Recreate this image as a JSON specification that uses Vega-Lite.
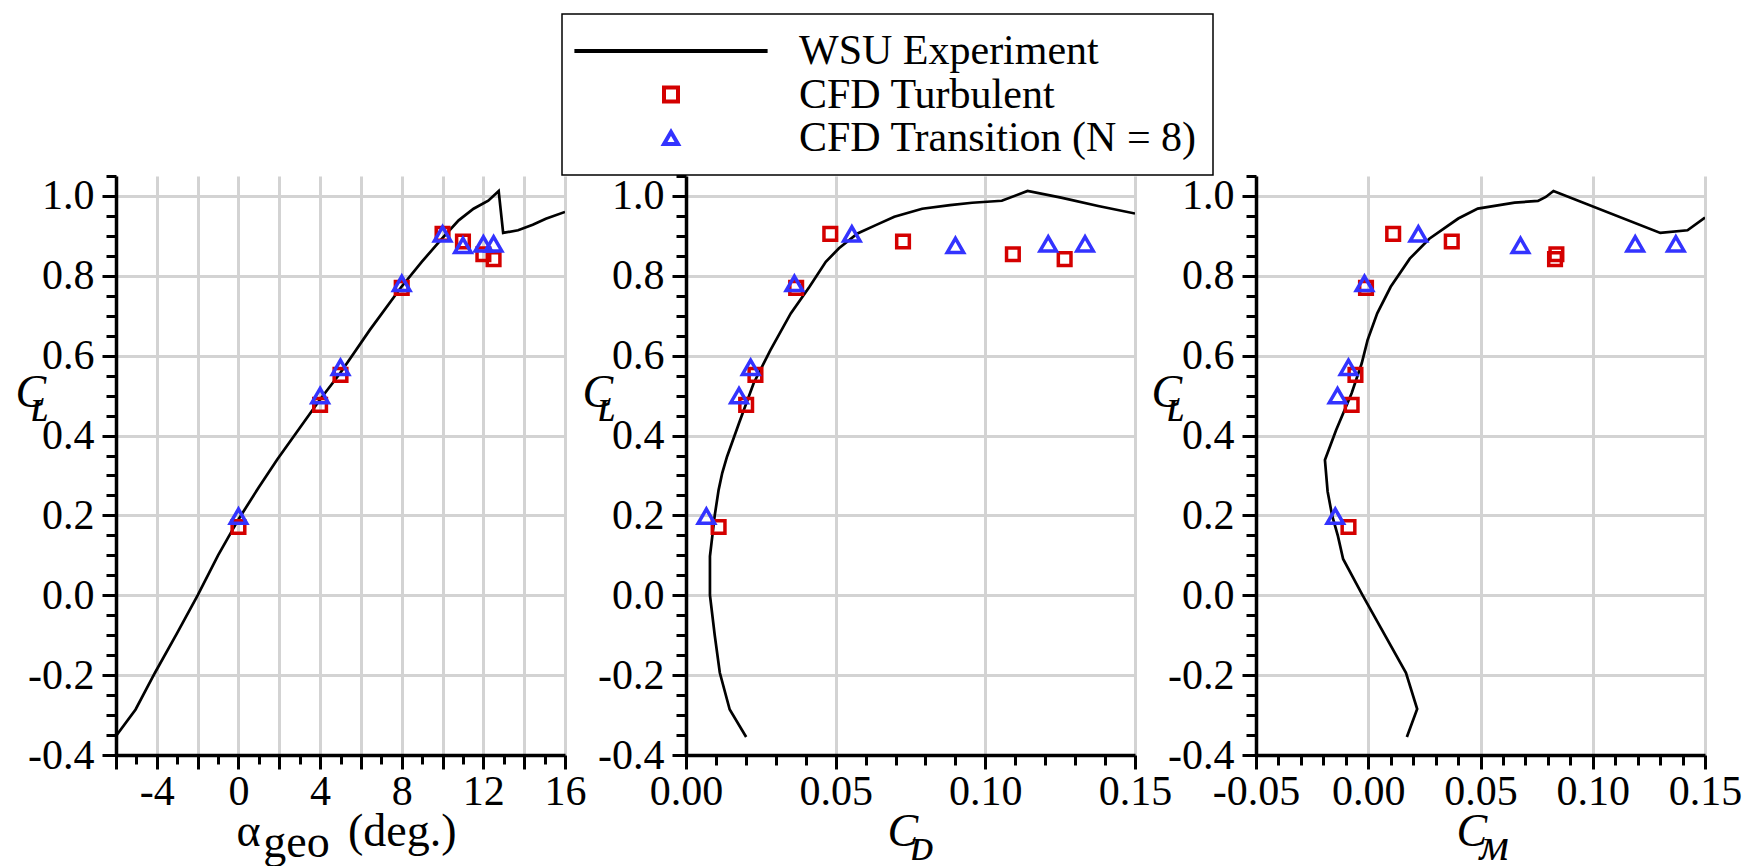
{
  "$schema": "https://vega.github.io/schema/vega-lite/v6.json",
  "autosize": {"type": "pad"},
  "padding": {"left": 15, "top": 13, "right": 10, "bottom": 4},
  "background": "white",
  "datasets": {
    "wsu_a": [
      {"i": 1, "alpha": -6.0, "CL": -0.3525},
      {"i": 2, "alpha": -5.04, "CL": -0.286},
      {"i": 3, "alpha": -4.09, "CL": -0.194},
      {"i": 4, "alpha": -3.0, "CL": -0.094},
      {"i": 5, "alpha": -2.0, "CL": 0.0},
      {"i": 6, "alpha": -1.0, "CL": 0.10},
      {"i": 7, "alpha": 0.0, "CL": 0.19},
      {"i": 8, "alpha": 0.99, "CL": 0.27},
      {"i": 9, "alpha": 1.9, "CL": 0.34},
      {"i": 10, "alpha": 3.98, "CL": 0.489},
      {"i": 11, "alpha": 4.98, "CL": 0.556},
      {"i": 12, "alpha": 6.43, "CL": 0.664},
      {"i": 13, "alpha": 7.98, "CL": 0.772},
      {"i": 14, "alpha": 8.98, "CL": 0.835},
      {"i": 15, "alpha": 9.97, "CL": 0.893},
      {"i": 16, "alpha": 10.79, "CL": 0.939},
      {"i": 17, "alpha": 11.52, "CL": 0.968},
      {"i": 18, "alpha": 12.24, "CL": 0.988},
      {"i": 19, "alpha": 12.75, "CL": 1.0125},
      {"i": 20, "alpha": 12.97, "CL": 0.9075},
      {"i": 21, "alpha": 13.7, "CL": 0.914},
      {"i": 22, "alpha": 14.42, "CL": 0.928},
      {"i": 23, "alpha": 15.06, "CL": 0.943},
      {"i": 24, "alpha": 16.0, "CL": 0.96}
    ],
    "wsu_d": [
      {"i": 1, "CD": 0.0201, "CL": -0.355},
      {"i": 2, "CD": 0.0146, "CL": -0.286},
      {"i": 3, "CD": 0.0113, "CL": -0.194},
      {"i": 4, "CD": 0.0096, "CL": -0.10},
      {"i": 5, "CD": 0.0080, "CL": 0.0},
      {"i": 6, "CD": 0.0080, "CL": 0.0975},
      {"i": 7, "CD": 0.0096, "CL": 0.20},
      {"i": 8, "CD": 0.0109, "CL": 0.264},
      {"i": 9, "CD": 0.0121, "CL": 0.306},
      {"i": 10, "CD": 0.0137, "CL": 0.347},
      {"i": 11, "CD": 0.0177, "CL": 0.431},
      {"i": 12, "CD": 0.0226, "CL": 0.531},
      {"i": 13, "CD": 0.0282, "CL": 0.614},
      {"i": 14, "CD": 0.0350, "CL": 0.706},
      {"i": 15, "CD": 0.0412, "CL": 0.772},
      {"i": 16, "CD": 0.0467, "CL": 0.835},
      {"i": 17, "CD": 0.0511, "CL": 0.869},
      {"i": 18, "CD": 0.0573, "CL": 0.906},
      {"i": 19, "CD": 0.0634, "CL": 0.927},
      {"i": 20, "CD": 0.0696, "CL": 0.948},
      {"i": 21, "CD": 0.0789, "CL": 0.968},
      {"i": 22, "CD": 0.0882, "CL": 0.977},
      {"i": 23, "CD": 0.0956, "CL": 0.983},
      {"i": 24, "CD": 0.1055, "CL": 0.988},
      {"i": 25, "CD": 0.1141, "CL": 1.0125},
      {"i": 26, "CD": 0.1253, "CL": 0.996},
      {"i": 27, "CD": 0.1377, "CL": 0.975},
      {"i": 28, "CD": 0.1500, "CL": 0.956}
    ],
    "wsu_m": [
      {"i": 1, "CM": 0.0172, "CL": -0.355},
      {"i": 2, "CM": 0.0218, "CL": -0.285},
      {"i": 3, "CM": 0.0168, "CL": -0.194},
      {"i": 4, "CM": -0.0028, "CL": 0.003},
      {"i": 5, "CM": -0.0112, "CL": 0.091},
      {"i": 6, "CM": -0.0135, "CL": 0.148},
      {"i": 7, "CM": -0.0161, "CL": 0.20},
      {"i": 8, "CM": -0.0181, "CL": 0.26},
      {"i": 9, "CM": -0.0193, "CL": 0.339},
      {"i": 10, "CM": -0.0143, "CL": 0.414},
      {"i": 11, "CM": -0.0074, "CL": 0.506},
      {"i": 12, "CM": -0.0029, "CL": 0.581},
      {"i": 13, "CM": -0.0003, "CL": 0.639},
      {"i": 14, "CM": 0.0040, "CL": 0.706},
      {"i": 15, "CM": 0.0100, "CL": 0.7725},
      {"i": 16, "CM": 0.0185, "CL": 0.843},
      {"i": 17, "CM": 0.0272, "CL": 0.893},
      {"i": 18, "CM": 0.0401, "CL": 0.9435},
      {"i": 19, "CM": 0.0488, "CL": 0.9685},
      {"i": 20, "CM": 0.0652, "CL": 0.9835},
      {"i": 21, "CM": 0.0756, "CL": 0.9875},
      {"i": 22, "CM": 0.0791, "CL": 0.9975},
      {"i": 23, "CM": 0.0825, "CL": 1.0125},
      {"i": 24, "CM": 0.1301, "CL": 0.9075},
      {"i": 25, "CM": 0.1422, "CL": 0.914},
      {"i": 26, "CM": 0.1500, "CL": 0.946}
    ],
    "cfd": [
      {"series": "CFD Turbulent", "alpha": 0, "CL": 0.171, "CD": 0.0109, "CM": -0.0088},
      {"series": "CFD Turbulent", "alpha": 4, "CL": 0.477, "CD": 0.0201, "CM": -0.0074},
      {"series": "CFD Turbulent", "alpha": 5, "CL": 0.552, "CD": 0.0232, "CM": -0.0057},
      {"series": "CFD Turbulent", "alpha": 8, "CL": 0.770, "CD": 0.0368, "CM": -0.0010},
      {"series": "CFD Turbulent", "alpha": 10, "CL": 0.905, "CD": 0.0482, "CM": 0.0111},
      {"series": "CFD Turbulent", "alpha": 11, "CL": 0.886, "CD": 0.0725, "CM": 0.0372},
      {"series": "CFD Turbulent", "alpha": 12, "CL": 0.854, "CD": 0.1092, "CM": 0.0838},
      {"series": "CFD Turbulent", "alpha": 12.5, "CL": 0.842, "CD": 0.1265, "CM": 0.0832},
      {"series": "CFD Transition (N = 8)", "alpha": 0, "CL": 0.198, "CD": 0.0068, "CM": -0.0147},
      {"series": "CFD Transition (N = 8)", "alpha": 4, "CL": 0.500, "CD": 0.0177, "CM": -0.0137},
      {"series": "CFD Transition (N = 8)", "alpha": 5, "CL": 0.571, "CD": 0.0216, "CM": -0.0088},
      {"series": "CFD Transition (N = 8)", "alpha": 8, "CL": 0.781, "CD": 0.0362, "CM": -0.0017},
      {"series": "CFD Transition (N = 8)", "alpha": 10, "CL": 0.905, "CD": 0.0554, "CM": 0.0223},
      {"series": "CFD Transition (N = 8)", "alpha": 11, "CL": 0.876, "CD": 0.0900, "CM": 0.0678},
      {"series": "CFD Transition (N = 8)", "alpha": 12, "CL": 0.880, "CD": 0.1210, "CM": 0.1189},
      {"series": "CFD Transition (N = 8)", "alpha": 12.5, "CL": 0.880, "CD": 0.1333, "CM": 0.1370}
    ]
  },
  "spacing": 121,
  "bounds": "flush",
  "resolve": {"scale": {"color": "shared", "shape": "shared"}},
  "hconcat": [
    {
      "width": 449,
      "height": 579,
      "encoding": {
        "x": {
          "field": "alpha", "type": "quantitative",
          "scale": {"domain": [-6, 16], "nice": false, "zero": false},
          "axis": {
            "values": [-6, -5, -4, -3, -2, -1, 0, 1, 2, 3, 4, 5, 6, 7, 8, 9, 10, 11, 12, 13, 14, 15, 16],
            "labelExpr": "datum.value % 4 === 0 ? '' + datum.value : ''",
            "tickSize": {"condition": {"test": "datum.value % 2 === 0", "value": 14}, "value": 9},
            "gridOpacity": {"condition": {"test": "datum.value % 2 === 0", "value": 1}, "value": 0},
            "labelPadding": 2,
            "title": ["α\u2003\u2002\u2009\u2009(deg.)", "\u2060\u2002\u200ageo"],
            "titleAlign": "left", "titleX": 120, "titleY": 90, "titleBaseline": "alphabetic",
            "titleLineHeight": 11, "titleFontSize": 46, "titleFontStyle": "normal"
          }
        },
        "y": {
          "field": "CL", "type": "quantitative",
          "scale": {"domain": [-0.4, 1.05], "nice": false, "zero": false},
          "axis": {
            "values": [-0.4, -0.35, -0.3, -0.25, -0.2, -0.15, -0.1, -0.05, 0, 0.05, 0.1, 0.15, 0.2, 0.25, 0.3, 0.35, 0.4, 0.45, 0.5, 0.55, 0.6, 0.65, 0.7, 0.75, 0.8, 0.85, 0.9, 0.95, 1, 1.05],
            "labelExpr": "abs(datum.value*5 - round(datum.value*5)) < 0.001 ? replace(format(datum.value, '.1f'), '\u2212', '-') : ''",
            "tickSize": {"condition": {"test": "abs(datum.value*5 - round(datum.value*5)) < 0.001", "value": 14}, "value": 10},
            "gridOpacity": {"condition": {"test": "abs(datum.value*5 - round(datum.value*5)) < 0.001", "value": 1}, "value": 0},
            "labelPadding": 8,
            "title": ["C", "\u2060\u2004ʟ"],
            "titleAngle": 0, "titleAlign": "left", "titleBaseline": "alphabetic",
            "titleX": -101, "titleY": 230, "titleFontSize": 46, "titleFontStyle": "italic", "titleLineHeight": 14
          }
        }
      },
      "layer": [
        {
          "data": {"name": "wsu_a"},
          "mark": {"type": "line", "color": "black", "strokeWidth": 2.7, "clip": true},
          "encoding": {"order": {"field": "i", "type": "quantitative"}}
        },
        {
          "data": {"name": "cfd"},
          "transform": [{"filter": "datum.series === 'CFD Turbulent'"}],
          "mark": {"type": "point", "filled": false, "size": 160, "strokeWidth": 3.5, "opacity": 1},
          "encoding": {
            "color": {"field": "series", "type": "nominal", "scale": {"domain": ["WSU Experiment", "CFD Turbulent", "CFD Transition (N = 8)"], "range": ["black", "#d40000", "#3333ff"]}, "legend": {"title": null, "orient": "none", "legendX": 446, "legendY": -162}},
            "shape": {"field": "series", "type": "nominal", "scale": {"domain": ["WSU Experiment", "CFD Turbulent", "CFD Transition (N = 8)"], "range": ["M-13.8,0H13.8", "square", "triangle-up"]}, "legend": {"title": null, "orient": "none", "legendX": 446, "legendY": -162}}
          }
        },
        {
          "data": {"name": "cfd"},
          "transform": [{"filter": "datum.series !== 'CFD Turbulent'"}],
          "mark": {"type": "point", "filled": false, "size": 270, "strokeWidth": 3.5, "opacity": 1},
          "encoding": {
            "color": {"field": "series", "type": "nominal", "legend": {"title": null}},
            "shape": {"field": "series", "type": "nominal", "legend": {"title": null}}
          }
        }
      ]
    },
    {
      "width": 449,
      "height": 579,
      "encoding": {
        "x": {
          "field": "CD", "type": "quantitative",
          "scale": {"domain": [0, 0.15], "nice": false, "zero": false},
          "axis": {
            "values": [0, 0.01, 0.02, 0.03, 0.04, 0.05, 0.06, 0.07, 0.08, 0.09, 0.1, 0.11, 0.12, 0.13, 0.14, 0.15],
            "labelExpr": "abs(datum.value*20 - round(datum.value*20)) < 0.001 ? format(datum.value, '.2f') : ''",
            "tickSize": {"condition": {"test": "abs(datum.value*20 - round(datum.value*20)) < 0.001", "value": 14}, "value": 10},
            "gridOpacity": {"condition": {"test": "abs(datum.value*20 - round(datum.value*20)) < 0.001", "value": 1}, "value": 0},
            "labelPadding": 2,
            "title": ["C", "\u2060\u2002ᴅ"],
            "titleAlign": "left", "titleX": 201, "titleY": 90, "titleBaseline": "alphabetic",
            "titleLineHeight": 14, "titleFontSize": 46, "titleFontStyle": "italic"
          }
        },
        "y": {
          "field": "CL", "type": "quantitative",
          "scale": {"domain": [-0.4, 1.05], "nice": false, "zero": false},
          "axis": {
            "values": [-0.4, -0.35, -0.3, -0.25, -0.2, -0.15, -0.1, -0.05, 0, 0.05, 0.1, 0.15, 0.2, 0.25, 0.3, 0.35, 0.4, 0.45, 0.5, 0.55, 0.6, 0.65, 0.7, 0.75, 0.8, 0.85, 0.9, 0.95, 1, 1.05],
            "labelExpr": "abs(datum.value*5 - round(datum.value*5)) < 0.001 ? replace(format(datum.value, '.1f'), '\u2212', '-') : ''",
            "tickSize": {"condition": {"test": "abs(datum.value*5 - round(datum.value*5)) < 0.001", "value": 14}, "value": 10},
            "gridOpacity": {"condition": {"test": "abs(datum.value*5 - round(datum.value*5)) < 0.001", "value": 1}, "value": 0},
            "labelPadding": 8,
            "title": ["C", "\u2060\u2004ʟ"],
            "titleAngle": 0, "titleAlign": "left", "titleBaseline": "alphabetic",
            "titleX": -104, "titleY": 230, "titleFontSize": 46, "titleFontStyle": "italic", "titleLineHeight": 14
          }
        }
      },
      "layer": [
        {
          "data": {"name": "wsu_d"},
          "mark": {"type": "line", "color": "black", "strokeWidth": 2.7, "clip": true},
          "encoding": {"order": {"field": "i", "type": "quantitative"}}
        },
        {
          "data": {"name": "cfd"},
          "transform": [{"filter": "datum.series === 'CFD Turbulent'"}],
          "mark": {"type": "point", "filled": false, "size": 160, "strokeWidth": 3.5, "opacity": 1},
          "encoding": {
            "color": {"field": "series", "type": "nominal", "legend": {"title": null}},
            "shape": {"field": "series", "type": "nominal", "legend": {"title": null}}
          }
        },
        {
          "data": {"name": "cfd"},
          "transform": [{"filter": "datum.series !== 'CFD Turbulent'"}],
          "mark": {"type": "point", "filled": false, "size": 270, "strokeWidth": 3.5, "opacity": 1},
          "encoding": {
            "color": {"field": "series", "type": "nominal", "legend": {"title": null}},
            "shape": {"field": "series", "type": "nominal", "legend": {"title": null}}
          }
        }
      ]
    },
    {
      "width": 449,
      "height": 579,
      "encoding": {
        "x": {
          "field": "CM", "type": "quantitative",
          "scale": {"domain": [-0.05, 0.15], "nice": false, "zero": false},
          "axis": {
            "values": [-0.05, -0.04, -0.03, -0.02, -0.01, 0, 0.01, 0.02, 0.03, 0.04, 0.05, 0.06, 0.07, 0.08, 0.09, 0.1, 0.11, 0.12, 0.13, 0.14, 0.15],
            "labelExpr": "abs(datum.value*20 - round(datum.value*20)) < 0.001 ? replace(format(datum.value, '.2f'), '\u2212', '-') : ''",
            "tickSize": {"condition": {"test": "abs(datum.value*20 - round(datum.value*20)) < 0.001", "value": 14}, "value": 10},
            "gridOpacity": {"condition": {"test": "abs(datum.value*20 - round(datum.value*20)) < 0.001", "value": 1}, "value": 0},
            "labelPadding": 2,
            "title": ["C", "\u2060\u2002ᴍ"],
            "titleAlign": "left", "titleX": 200, "titleY": 90, "titleBaseline": "alphabetic",
            "titleLineHeight": 14, "titleFontSize": 46, "titleFontStyle": "italic"
          }
        },
        "y": {
          "field": "CL", "type": "quantitative",
          "scale": {"domain": [-0.4, 1.05], "nice": false, "zero": false},
          "axis": {
            "values": [-0.4, -0.35, -0.3, -0.25, -0.2, -0.15, -0.1, -0.05, 0, 0.05, 0.1, 0.15, 0.2, 0.25, 0.3, 0.35, 0.4, 0.45, 0.5, 0.55, 0.6, 0.65, 0.7, 0.75, 0.8, 0.85, 0.9, 0.95, 1, 1.05],
            "labelExpr": "abs(datum.value*5 - round(datum.value*5)) < 0.001 ? replace(format(datum.value, '.1f'), '\u2212', '-') : ''",
            "tickSize": {"condition": {"test": "abs(datum.value*5 - round(datum.value*5)) < 0.001", "value": 14}, "value": 10},
            "gridOpacity": {"condition": {"test": "abs(datum.value*5 - round(datum.value*5)) < 0.001", "value": 1}, "value": 0},
            "labelPadding": 8,
            "title": ["C", "\u2060\u2004ʟ"],
            "titleAngle": 0, "titleAlign": "left", "titleBaseline": "alphabetic",
            "titleX": -105, "titleY": 230, "titleFontSize": 46, "titleFontStyle": "italic", "titleLineHeight": 14
          }
        }
      },
      "layer": [
        {
          "data": {"name": "wsu_m"},
          "mark": {"type": "line", "color": "black", "strokeWidth": 2.7, "clip": true},
          "encoding": {"order": {"field": "i", "type": "quantitative"}}
        },
        {
          "data": {"name": "cfd"},
          "transform": [{"filter": "datum.series === 'CFD Turbulent'"}],
          "mark": {"type": "point", "filled": false, "size": 160, "strokeWidth": 3.5, "opacity": 1},
          "encoding": {
            "color": {"field": "series", "type": "nominal", "legend": {"title": null}},
            "shape": {"field": "series", "type": "nominal", "legend": {"title": null}}
          }
        },
        {
          "data": {"name": "cfd"},
          "transform": [{"filter": "datum.series !== 'CFD Turbulent'"}],
          "mark": {"type": "point", "filled": false, "size": 270, "strokeWidth": 3.5, "opacity": 1},
          "encoding": {
            "color": {"field": "series", "type": "nominal", "legend": {"title": null}},
            "shape": {"field": "series", "type": "nominal", "legend": {"title": null}}
          }
        }
      ]
    }
  ],
  "config": {
    "font": "Liberation Serif",
    "view": {"stroke": null},
    "axis": {
      "domainColor": "black", "domainWidth": 3.5,
      "tickColor": "black", "tickWidth": 3,
      "grid": true, "gridColor": "#d3d3d3", "gridWidth": 3,
      "labelFont": "Liberation Serif", "labelFontSize": 42, "labelColor": "black",
      "labelFlush": false, "labelOverlap": false, "labelBound": false,
      "titleFont": "Liberation Serif", "titleColor": "black", "titleFontWeight": "normal"
    },
    "legend": {
      "orient": "none",
      "padding": 16,
      "strokeColor": "black",
      "strokeWidth": 1.5,
      "fillColor": "white",
      "labelFont": "Liberation Serif",
      "labelFontSize": 42,
      "labelColor": "black",
      "labelLimit": 1000,
      "symbolOffset": 72,
      "labelOffset": 107,
      "rowPadding": 1.5,
      "symbolSize": 196,
      "symbolStrokeWidth": 4
    }
  }
}
